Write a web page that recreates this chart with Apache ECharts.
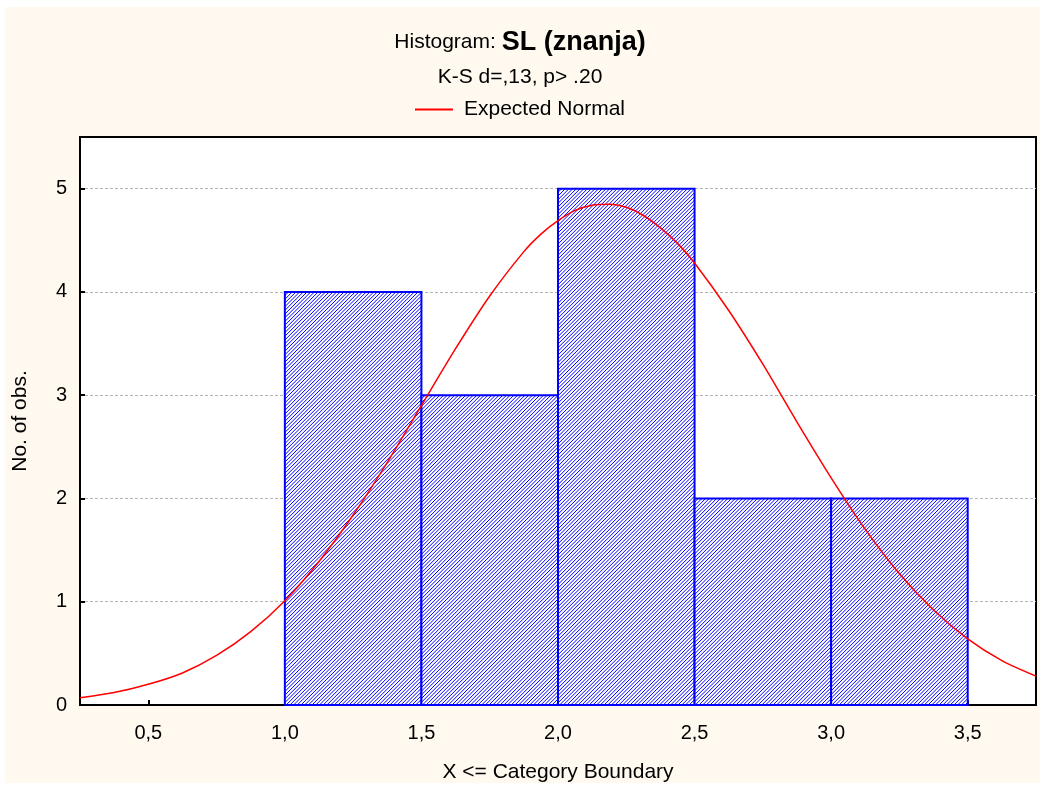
<!DOCTYPE html>
<html>
<head>
<meta charset="utf-8">
<script src="https://cdn.jsdelivr.net/npm/echarts@6/dist/echarts.min.js"></script>
<style>
  html, body { margin: 0; padding: 0; background: #ffffff; }
  #paper { position: absolute; left: 5px; top: 7px; width: 1035px; height: 776px; background: #fff9ef; }
  #main { position: absolute; left: 0; top: 0; width: 1040px; height: 789px; }
</style>
</head>
<body>
<div id="paper"></div>
<div id="main"></div>
<script>
// histogram bins (category boundaries) and counts
const binStart = [1.0, 1.5, 2.0, 2.5, 3.0];
const binEnd   = [1.5, 2.0, 2.5, 3.0, 3.5];
const counts   = [4, 3, 5, 2, 2];

// expected normal curve
const curveX = [0.25, 0.375, 0.5, 0.625, 0.75, 0.875, 1.0, 1.125, 1.25, 1.375, 1.5, 1.625, 1.75, 1.875, 1.9375,
                2.0, 2.0625, 2.125, 2.1875, 2.25, 2.3125, 2.375, 2.4375, 2.5, 2.625, 2.75, 2.875, 3.0, 3.125,
                3.25, 3.375, 3.5, 3.625, 3.75];
const curveY = [0.07, 0.12, 0.20, 0.31, 0.48, 0.71, 1.01, 1.39, 1.84, 2.35, 2.90, 3.45, 3.96, 4.39, 4.56,
                4.69, 4.79, 4.84, 4.85, 4.82, 4.74, 4.62, 4.47, 4.28, 3.82, 3.30, 2.74, 2.20, 1.70,
                1.27, 0.92, 0.64, 0.43, 0.28];

const xTicks = [0.5, 1.0, 1.5, 2.0, 2.5, 3.0, 3.5];
const yTicks = [0, 1, 2, 3, 4, 5];

const font = 'Liberation Sans, Arial, sans-serif';

// one bar: white box, blue "/" hatch clipped to it, blue frame
function hatchedBar(x, y, w, h) {
  const lines = [];
  const step = 3.7;
  for (let k = 0; k <= w + h; k += step) {
    lines.push({
      type: 'line',
      shape: { x1: x + k - h, y1: y + h, x2: x + k, y2: y },
      style: { stroke: '#0000ff', lineWidth: 1 },
      silent: true
    });
  }
  return {
    type: 'group',
    children: [
      { type: 'rect', shape: { x, y, width: w, height: h }, style: { fill: '#ffffff' } },
      {
        type: 'group',
        clipPath: { type: 'rect', shape: { x, y, width: w, height: h } },
        children: lines
      },
      { type: 'rect', shape: { x, y, width: w, height: h }, style: { fill: 'none', stroke: '#0000ff', lineWidth: 2 } }
    ]
  };
}

const chart = echarts.init(document.getElementById('main'));

chart.setOption({
  backgroundColor: 'transparent',
  textStyle: { fontFamily: font },
  animation: false,
  title: {
    left: 'center',
    top: 24,
    text: '{a|Histogram: }{b|SL (znanja)}',
    subtext: 'K-S d=,13, p> .20',
    itemGap: 11,
    textStyle: {
      fontWeight: 'normal',
      rich: {
        a: { fontFamily: font, fontSize: 21, fontWeight: 'normal', color: '#000' },
        b: { fontFamily: font, fontSize: 27, fontWeight: 'bold', color: '#000' }
      }
    },
    subtextStyle: { fontFamily: font, fontSize: 21, color: '#000' }
  },
  legend: {
    top: 94,
    left: 'center',
    itemWidth: 38,
    itemHeight: 2,
    data: [{ name: 'Expected Normal', icon: 'rect' }],
    textStyle: { fontFamily: font, fontSize: 21, color: '#000', padding: [0, 0, 0, 6] }
  },
  grid: {
    left: 80, right: 4, top: 137, bottom: 84,
    show: true, backgroundColor: '#ffffff', borderColor: '#000', borderWidth: 2
  },
  xAxis: {
    type: 'value',
    min: 0.25, max: 3.75,
    name: 'X <= Category Boundary',
    nameLocation: 'middle',
    nameGap: 57,
    nameTextStyle: { fontFamily: font, fontSize: 21, color: '#000' },
    axisLine: { show: true, onZero: false, lineStyle: { color: '#000', width: 2 } },
    axisTick: { show: true, inside: true, length: 5, customValues: xTicks, lineStyle: { color: '#000', width: 2 } },
    axisLabel: {
      customValues: xTicks,
      margin: 18,
      fontSize: 20, color: '#000', fontFamily: font,
      formatter: v => v.toFixed(1).replace('.', ',')
    },
    splitLine: { show: false }
  },
  yAxis: {
    type: 'value',
    min: 0, max: 5.5,
    name: 'No. of obs.',
    nameLocation: 'middle',
    nameGap: 49,
    nameTextStyle: { fontFamily: font, fontSize: 21, color: '#000' },
    axisLine: { show: true, lineStyle: { color: '#000', width: 2 } },
    axisTick: { show: true, inside: true, length: 5, customValues: yTicks, lineStyle: { color: '#000', width: 2 } },
    axisLabel: { customValues: yTicks, margin: 13, fontSize: 20, color: '#000', fontFamily: font },
    splitLine: { show: true, lineStyle: { color: '#b4b4b4', type: [3, 2], width: 1 } }
  },
  series: [
    {
      type: 'custom',
      name: 'bins',
      data: binStart.map((s, i) => [s, binEnd[i], counts[i]]),
      encode: { x: [0, 1], y: 2 },
      renderItem: (params, api) => {
        const p0 = api.coord([api.value(0), api.value(2)]);
        const p1 = api.coord([api.value(1), 0]);
        return hatchedBar(p0[0], p0[1], p1[0] - p0[0], p1[1] - p0[1]);
      },
      z: 2
    },
    {
      type: 'line',
      name: 'Expected Normal',
      data: curveX.map((x, i) => [x, curveY[i]]),
      smooth: 0.3,
      symbol: 'none',
      lineStyle: { color: '#ff0000', width: 1.5 },
      itemStyle: { color: '#ff0000' },
      z: 3
    }
  ]
});
</script>
</body>
</html>
